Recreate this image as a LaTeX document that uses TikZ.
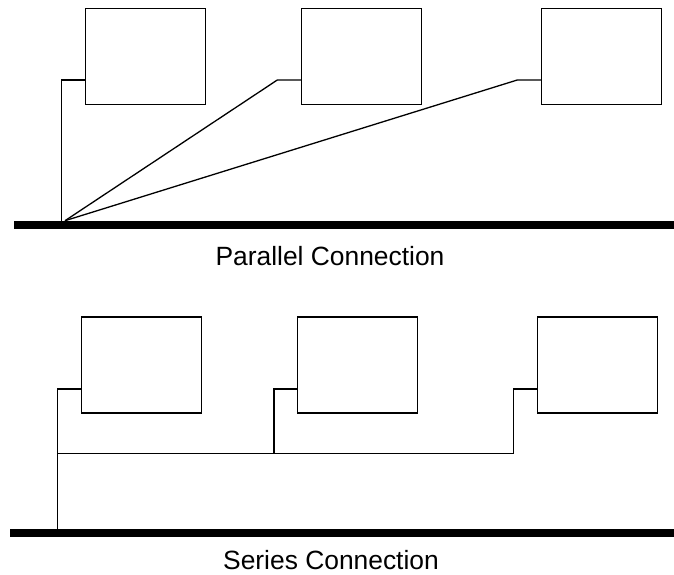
\documentclass[tikz,border=0pt]{standalone}
\usepackage{fontspec}
\setmainfont{Liberation Sans}
\begin{document}
\begin{tikzpicture}[x=1pt,y=-1pt,
  unitbox/.style={draw, line width=1.3pt, inner sep=0pt, minimum width=120pt, minimum height=96pt},
  wire/.style={line width=1.3pt, line join=miter},
  busbar/.style={fill=black, draw=none, inner sep=0pt, minimum height=8pt},
  caption/.style={anchor=base, inner sep=0pt, font=\fontsize{26.4}{30}\selectfont}]
\useasboundingbox (0,0) rectangle (674,575);

% ---------- parallel connection ----------
\node[unitbox] (p1) at (145.5,56.3) {};
\node[unitbox] (p2) at (361.7,56.3) {};
\node[unitbox] (p3) at (601.7,56.3) {};
\node[busbar, minimum width=660pt] (pbus) at (344,224.7) {};

\coordinate (p1in) at (85.5,80);
\coordinate (p2in) at (301.7,80);
\coordinate (p3in) at (541.7,80);
\coordinate (p1tap) at (61.3,220.7);
\coordinate (ptap) at (65,220.7);
\coordinate (p2bend) at (277.3,80);
\coordinate (p3bend) at (517.3,80);

\draw[wire] (p1in) -| (p1tap);
\draw[wire] (p2in) -- (p2bend) -- (ptap);
\draw[wire] (p3in) -- (p3bend) -- (ptap);

\node[caption] (pcap) at (330,265) {Parallel Connection};

% ---------- series connection ----------
\node[unitbox] (s1) at (141.5,365) {};
\node[unitbox] (s2) at (357.7,365) {};
\node[unitbox] (s3) at (597.3,365) {};
\node[busbar, minimum width=664pt] (sbus) at (342,533) {};

\coordinate (s1in) at (81.5,389);
\coordinate (s2in) at (297.7,389);
\coordinate (s3in) at (537.3,389);
\coordinate (stap) at (57.7,529);
\coordinate (sj1) at (57.7,453.3);
\coordinate (sj2) at (274,453.3);
\coordinate (sj3) at (513.3,453.3);

\draw[wire] (s1in) -| (stap);
\draw[wire] (sj1) -- (sj3) |- (s3in);
\draw[wire] (sj2) |- (s2in);

\node[caption] (scap) at (331,569) {Series Connection};
\end{tikzpicture}
\end{document}
